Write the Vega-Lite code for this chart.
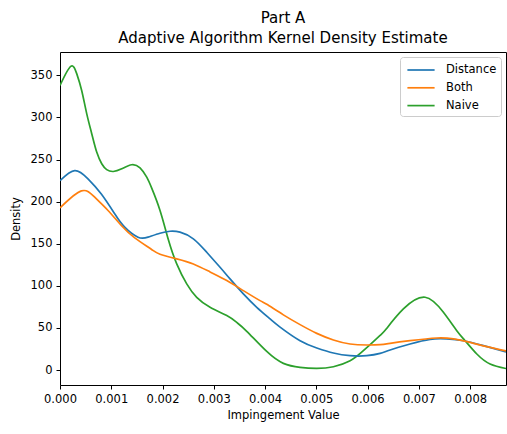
{
  "$schema": "https://vega.github.io/schema/vega-lite/v6.json",
  "autosize": "none",
  "width": 446,
  "height": 333,
  "padding": {"left": 60, "top": 52, "right": 1, "bottom": 49},
  "background": "white",
  "config": {
    "font": "DejaVu Sans",
    "view": {"stroke": "black", "strokeWidth": 1},
    "axis": {
      "grid": false,
      "domain": false,
      "tickColor": "black",
      "tickSize": 4,
      "labelColor": "black",
      "labelFontSize": 11.5,
      "labelFont": "DejaVu Sans",
      "labelPadding": 4,
      "labelFlush": false,
      "labelOverlap": false,
      "titleColor": "black",
      "titleFontSize": 11.5,
      "titleFont": "DejaVu Sans",
      "titleFontWeight": "normal"
    }
  },
  "title": {
    "text": ["Part A", "Adaptive Algorithm Kernel Density Estimate"],
    "font": "DejaVu Sans",
    "fontSize": 15,
    "fontWeight": "normal",
    "color": "black",
    "lineHeight": 20,
    "anchor": "middle",
    "frame": "group",
    "offset": 6
  },
  "data": {
    "values": [
      {"series": "Naive", "v": 0.0, "d": 338},
      {"series": "Naive", "v": 0.000209, "d": 360.7},
      {"series": "Naive", "v": 0.000326, "d": 352},
      {"series": "Naive", "v": 0.000423, "d": 332},
      {"series": "Naive", "v": 0.000521, "d": 304.5},
      {"series": "Naive", "v": 0.000619, "d": 280.7},
      {"series": "Naive", "v": 0.000716, "d": 258.8},
      {"series": "Naive", "v": 0.000814, "d": 245},
      {"series": "Naive", "v": 0.000911, "d": 238},
      {"series": "Naive", "v": 0.00104, "d": 235.8},
      {"series": "Naive", "v": 0.001204, "d": 239},
      {"series": "Naive", "v": 0.001399, "d": 243.8},
      {"series": "Naive", "v": 0.001561, "d": 240},
      {"series": "Naive", "v": 0.001692, "d": 229},
      {"series": "Naive", "v": 0.001789, "d": 216},
      {"series": "Naive", "v": 0.001951, "d": 189.5},
      {"series": "Naive", "v": 0.002113, "d": 155},
      {"series": "Naive", "v": 0.002277, "d": 126},
      {"series": "Naive", "v": 0.002472, "d": 102.3},
      {"series": "Naive", "v": 0.002667, "d": 86.3},
      {"series": "Naive", "v": 0.002927, "d": 74.5},
      {"series": "Naive", "v": 0.003253, "d": 64.6},
      {"series": "Naive", "v": 0.003448, "d": 56.5},
      {"series": "Naive", "v": 0.003643, "d": 46},
      {"series": "Naive", "v": 0.004033, "d": 22},
      {"series": "Naive", "v": 0.004357, "d": 7.9},
      {"series": "Naive", "v": 0.004683, "d": 3.1},
      {"series": "Naive", "v": 0.005009, "d": 1.9},
      {"series": "Naive", "v": 0.005333, "d": 3.9},
      {"series": "Naive", "v": 0.005659, "d": 11},
      {"series": "Naive", "v": 0.005918, "d": 23},
      {"series": "Naive", "v": 0.006244, "d": 41},
      {"series": "Naive", "v": 0.006375, "d": 49.5},
      {"series": "Naive", "v": 0.006698, "d": 72.5},
      {"series": "Naive", "v": 0.007122, "d": 86.4},
      {"series": "Naive", "v": 0.007479, "d": 68.5},
      {"series": "Naive", "v": 0.00774, "d": 46.7},
      {"series": "Naive", "v": 0.007902, "d": 34.8},
      {"series": "Naive", "v": 0.008131, "d": 19},
      {"series": "Naive", "v": 0.00839, "d": 7.1},
      {"series": "Naive", "v": 0.0087, "d": 1.8},
      {"series": "Distance", "v": 0.0, "d": 224.8},
      {"series": "Distance", "v": 0.000287, "d": 236.7},
      {"series": "Distance", "v": 0.000546, "d": 227},
      {"series": "Distance", "v": 0.000806, "d": 209},
      {"series": "Distance", "v": 0.001067, "d": 185.5},
      {"series": "Distance", "v": 0.001262, "d": 169.6},
      {"series": "Distance", "v": 0.001522, "d": 157.7},
      {"series": "Distance", "v": 0.001717, "d": 157.8},
      {"series": "Distance", "v": 0.001951, "d": 162.5},
      {"series": "Distance", "v": 0.002146, "d": 164.8},
      {"series": "Distance", "v": 0.002341, "d": 163.7},
      {"series": "Distance", "v": 0.002601, "d": 155.8},
      {"series": "Distance", "v": 0.002862, "d": 139.9},
      {"series": "Distance", "v": 0.003122, "d": 122},
      {"series": "Distance", "v": 0.003317, "d": 108.2},
      {"series": "Distance", "v": 0.003577, "d": 90.4},
      {"series": "Distance", "v": 0.003838, "d": 74.5},
      {"series": "Distance", "v": 0.004098, "d": 60.7},
      {"series": "Distance", "v": 0.004293, "d": 51},
      {"series": "Distance", "v": 0.004683, "d": 34.8},
      {"series": "Distance", "v": 0.005009, "d": 26.2},
      {"series": "Distance", "v": 0.005333, "d": 20.2},
      {"series": "Distance", "v": 0.005659, "d": 17},
      {"series": "Distance", "v": 0.005984, "d": 17},
      {"series": "Distance", "v": 0.006244, "d": 19.7},
      {"series": "Distance", "v": 0.006439, "d": 23.8},
      {"series": "Distance", "v": 0.006829, "d": 30.9},
      {"series": "Distance", "v": 0.00722, "d": 36.4},
      {"series": "Distance", "v": 0.007546, "d": 36.9},
      {"series": "Distance", "v": 0.007869, "d": 34.8},
      {"series": "Distance", "v": 0.00826, "d": 28.9},
      {"series": "Distance", "v": 0.0087, "d": 21.5},
      {"series": "Both", "v": 0.0, "d": 192.5},
      {"series": "Both", "v": 0.000416, "d": 212.7},
      {"series": "Both", "v": 0.000677, "d": 205.3},
      {"series": "Both", "v": 0.000937, "d": 189.5},
      {"series": "Both", "v": 0.001196, "d": 171.6},
      {"series": "Both", "v": 0.001458, "d": 157},
      {"series": "Both", "v": 0.001781, "d": 143.5},
      {"series": "Both", "v": 0.001951, "d": 137.5},
      {"series": "Both", "v": 0.002277, "d": 132},
      {"series": "Both", "v": 0.002601, "d": 126},
      {"series": "Both", "v": 0.002927, "d": 116.5},
      {"series": "Both", "v": 0.003253, "d": 106.2},
      {"series": "Both", "v": 0.003577, "d": 94.3},
      {"series": "Both", "v": 0.003902, "d": 82.4},
      {"series": "Both", "v": 0.004033, "d": 78},
      {"series": "Both", "v": 0.004357, "d": 65.5},
      {"series": "Both", "v": 0.004683, "d": 53.9},
      {"series": "Both", "v": 0.005009, "d": 43.5},
      {"series": "Both", "v": 0.005333, "d": 35.7},
      {"series": "Both", "v": 0.005659, "d": 30.9},
      {"series": "Both", "v": 0.005984, "d": 29.7},
      {"series": "Both", "v": 0.006244, "d": 30.1},
      {"series": "Both", "v": 0.006439, "d": 31.6},
      {"series": "Both", "v": 0.006829, "d": 34.8},
      {"series": "Both", "v": 0.00735, "d": 38},
      {"series": "Both", "v": 0.007674, "d": 36.9},
      {"series": "Both", "v": 0.008, "d": 32.8},
      {"series": "Both", "v": 0.008326, "d": 27.7},
      {"series": "Both", "v": 0.0087, "d": 22.6}
    ]
  },
  "mark": {"type": "line", "interpolate": "natural", "strokeWidth": 1.7, "clip": true},
  "encoding": {
    "x": {
      "field": "v",
      "type": "quantitative",
      "title": "Impingement Value",
      "scale": {"domain": [0, 0.0087], "nice": false, "zero": false},
      "axis": {"values": [0, 0.001, 0.002, 0.003, 0.004, 0.005, 0.006, 0.007, 0.008], "format": ".3f", "titlePadding": 5}
    },
    "y": {
      "field": "d",
      "type": "quantitative",
      "title": "Density",
      "scale": {"domain": [-17.8, 377.7], "nice": false, "zero": false},
      "axis": {"values": [0, 50, 100, 150, 200, 250, 300, 350], "titlePadding": 9}
    },
    "color": {
      "field": "series",
      "type": "nominal",
      "scale": {"domain": ["Distance", "Both", "Naive"], "range": ["#1f77b4", "#ff7f0e", "#2ca02c"]},
      "legend": {
        "title": null,
        "orient": "top-right",
        "offset": 5,
        "padding": 4,
        "strokeColor": "#cccccc",
        "fillColor": "white",
        "cornerRadius": 3,
        "symbolType": "M-1.7,0L1.7,0",
        "symbolSize": 256,
        "symbolStrokeWidth": 1.7,
        "symbolOffset": 8,
        "labelFontSize": 11.5,
        "labelFont": "DejaVu Sans",
        "labelColor": "black",
        "labelOffset": 16,
        "rowPadding": 2.8
      }
    }
  }
}
